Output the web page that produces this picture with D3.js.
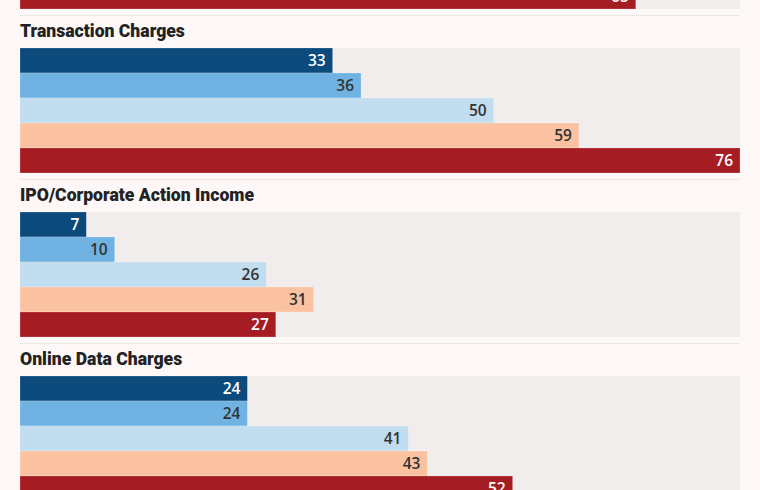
<!DOCTYPE html>
<html>
<head>
<meta charset="utf-8">
<title>Income breakdown</title>
<style>
  html, body { margin: 0; padding: 0; background: #fdf8f7; overflow: hidden; }
</style>
</head>
<body>
<script src="https://d3js.org/d3.v7.min.js"></script>
<script>

// categories shown (the first one is cut off above the frame, only its last bar shows)
var categories = ["", "Transaction Charges", "IPO/Corporate Action Income", "Online Data Charges"];
// five series per category, in the order drawn top to bottom
var seriesNames = ["s1", "s2", "s3", "s4", "s5"];
var seriesColors = ["#0c4a7b", "#70b3e2", "#c1ddef", "#fbc2a2", "#a61c23"];
var labelColors = ["#fff", "#333", "#333", "#333", "#fff"];

var values = [
  [null, null, null, null, 65],
  [33, 36, 50, 59, 76],
  [7, 10, 26, 31, 27],
  [24, 24, 41, 43, 52]
];

var width = 760, height = 490;

var svg = d3.select("body")
    .append("svg")
    .attr("width", width)
    .attr("height", height)
    .style("display", "block");

var x = d3.scaleLinear()
    .domain([0, 76])
    .range([20, 740]);

// each group: dotted rule, title, then five bars
var groupStep = 164;
var firstGroup = 15 - groupStep; // top group scrolled off the frame

var y = d3.scaleBand()
    .domain(seriesNames)
    .range([33, 158])
    .padding(0);

var groups = svg.selectAll("g.group")
    .data(categories)
    .enter()
    .append("g")
    .attr("class", "group")
    .attr("transform", function(d, i){ return "translate(0," + (firstGroup + i * groupStep) + ")"; });

groups.append("line")
    .attr("x1", x.range()[0])
    .attr("x2", x.range()[1])
    .attr("y1", 0.5)
    .attr("y2", 0.5)
    .attr("stroke", "#ddd6d6")
    .attr("stroke-width", 1)
    .attr("stroke-dasharray", "1,1");

groups.append("text")
    .attr("x", 20)
    .attr("y", 22)
    .attr("font-family", "Roboto, sans-serif")
    .attr("font-weight", 900)
    .attr("font-size", "17.6px")
    .attr("fill", "#222")
    .text(function(d){ return d; });

// background track
groups.append("rect")
    .attr("x", x(0))
    .attr("y", y.range()[0])
    .attr("width", x(76) - x(0))
    .attr("height", y.range()[1] - y.range()[0])
    .attr("fill", "#f2eded");

var bars = groups.selectAll("g.bar")
    .data(function(d, i){
      return values[i].map(function(v, j){ return {value: v, series: seriesNames[j], j: j}; })
        .filter(function(b){ return b.value != null; });
    })
    .enter()
    .append("g")
    .attr("class", "bar");

bars.append("rect")
    .attr("x", x(0))
    .attr("y", function(d){ return y(d.series); })
    .attr("width", function(d){ return x(d.value) - x(0); })
    .attr("height", y.bandwidth())
    .attr("fill", function(d){ return seriesColors[d.j]; })
    .attr("stroke", "rgba(255,255,255,0.35)")
    .attr("stroke-width", 0.6);

bars.append("text")
    .attr("x", function(d){ return x(d.value) - 7; })
    .attr("y", function(d){ return y(d.series) + y.bandwidth() / 2; })
    .attr("dy", "0.36em")
    .attr("text-anchor", "end")
    .attr("font-family", "'Open Sans', sans-serif")
    .attr("font-weight", 600)
    .attr("font-size", "15.5px")
    .attr("fill", function(d){ return labelColors[d.j]; })
    .text(function(d){ return d.value; });

</script>
</body>
</html>
